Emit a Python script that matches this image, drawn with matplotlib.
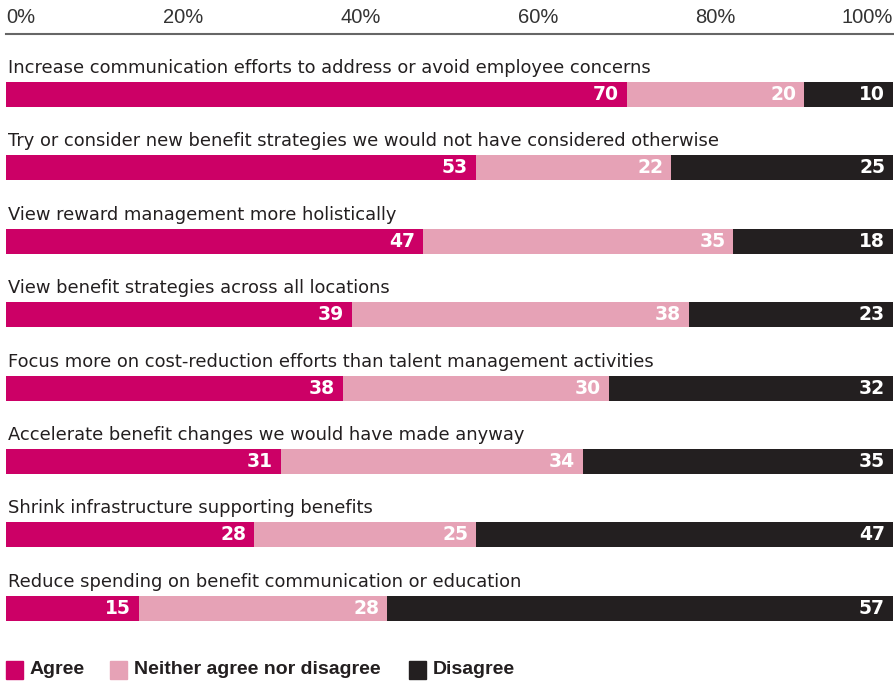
import matplotlib
matplotlib.use("Agg")
import matplotlib.pyplot as plt
from matplotlib.patches import Rectangle

plt.rcParams['font.family'] = ['DejaVu Sans']

statements = [
    "Increase communication efforts to address or avoid employee concerns",
    "Try or consider new benefit strategies we would not have considered otherwise",
    "View reward management more holistically",
    "View benefit strategies across all locations",
    "Focus more on cost-reduction efforts than talent management activities",
    "Accelerate benefit changes we would have made anyway",
    "Shrink infrastructure supporting benefits",
    "Reduce spending on benefit communication or education",
]
agree = [70, 53, 47, 39, 38, 31, 28, 15]
neither = [20, 22, 35, 38, 30, 34, 25, 28]
disagree = [10, 25, 18, 23, 32, 35, 47, 57]

series = ["Agree", "Neither agree nor disagree", "Disagree"]
colors = ["#cc0066", "#e6a2b6", "#231f20"]
ticks = [0, 20, 40, 60, 80, 100]

W, H = 894, 681
fig = plt.figure(figsize=(W / 100, H / 100), dpi=100)
ax = fig.add_axes([6 / W, 0, 887 / W, 1 - 34 / H])

bar_h = 0.34
left = [0] * len(agree)
for vals, col in zip([agree, neither, disagree], colors):
    for i, v in enumerate(vals):
        ax.barh(i, v, left=left[i], height=bar_h, color=col, linewidth=0)
        ax.text(left[i] + v - 0.9, i, str(v), ha='right', va='center',
                color='white', fontsize=13.5, fontweight='bold')
        left[i] += v

for i, s in enumerate(statements):
    ax.text(0.2, i - 0.293, s, ha='left', va='baseline', fontsize=12.9,
            color='#231f20')

ax.set_xlim(0, 100)
ax.set_ylim(7.99, -0.824)
ax.set_xticks(ticks)
ax.set_xticklabels([f"{t}%" for t in ticks], fontsize=14.5, color='#333333',
                   family=['Liberation Sans'])
ax.xaxis.tick_top()
ax.tick_params(axis='x', length=0, pad=5)
for lab, t in zip(ax.get_xticklabels(), ticks):
    if t == 0:
        lab.set_ha('left')
    elif t == 100:
        lab.set_ha('right')
ax.set_yticks([])
for side in ['left', 'right', 'bottom']:
    ax.spines[side].set_visible(False)
ax.spines['top'].set_color('#666666')
ax.spines['top'].set_linewidth(1.5)

# legend along the bottom
leg_x = [6, 110, 409]
for x0, name, col in zip(leg_x, series, colors):
    fig.patches.append(Rectangle((x0 / W, 1 - 679 / H), 17 / W, 18 / H,
                                 transform=fig.transFigure, color=col))
    fig.text((x0 + 24) / W, 1 - 670 / H, name, ha='left', va='center',
             fontsize=14, fontweight='bold', color='#231f20',
             family=['Liberation Sans'])

fig.savefig("out.png", dpi=100)
